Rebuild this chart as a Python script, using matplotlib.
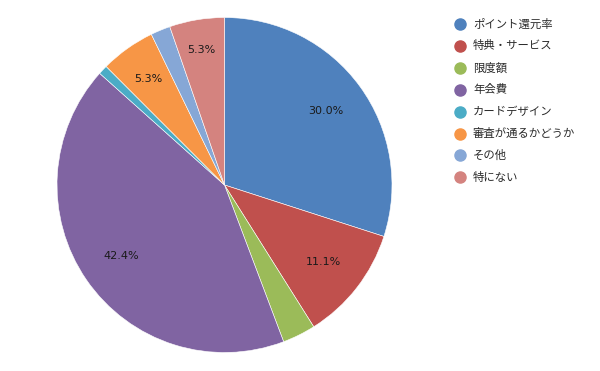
import matplotlib
matplotlib.use("Agg")
import matplotlib.pyplot as plt
import numpy as np
from matplotlib.lines import Line2D

plt.rcParams['font.family'] = ['Noto Sans CJK JP', 'DejaVu Sans']

categories = ['ポイント還元率', '特典・サービス', '限度額', '年会費', 'カードデザイン',
              '審査が通るかどうか', 'その他', '特にない']
values = [30.0, 11.1, 3.2, 42.4, 0.9, 5.3, 1.9, 5.3]
colors = ['#4F81BD', '#C0504D', '#9BBB59', '#8064A2', '#4BACC6', '#F79646', '#86A7D6', '#D4837F']
label_min = 5.0

fig = plt.figure(figsize=(6, 3.71), dpi=100)
W, H = 600, 371
cx, cy, r = 224.5, 185, 167.5
ax = fig.add_axes([(cx - r) / W, (H - cy - r) / H, 2 * r / W, 2 * r / H])
wedges, _ = ax.pie(values, colors=colors, startangle=90, counterclock=False, radius=1,
                   wedgeprops=dict(edgecolor='white', linewidth=0.4))
ax.set_xlim(-1, 1)
ax.set_ylim(-1, 1)
ax.set_aspect('equal')
ax.axis('off')

label_r = {0: 0.75, 1: 0.75, 3: 0.75, 5: 0.78, 7: 0.82}
total = sum(values)
for i, w in enumerate(wedges):
    if values[i] < label_min:
        continue
    ang = np.deg2rad((w.theta1 + w.theta2) / 2)
    rr = label_r.get(i, 0.75)
    ax.text(rr * np.cos(ang), rr * np.sin(ang), f"{values[i] / total * 100:.1f}%",
            ha='center', va='center', fontsize=8, family='DejaVu Sans', color='#1a1a1a')

for i, (c, col) in enumerate(zip(categories, colors)):
    y = H - (24 + i * 21.9)
    fig.lines.append(Line2D([460 / W], [y / H], marker='o', markersize=8, color=col,
                            linestyle='none', transform=fig.transFigure))
    fig.text(473 / W, y / H, c, fontsize=8.2, va='center', ha='left', color='#2b2b2b')

fig.savefig('out.png', dpi=100)
